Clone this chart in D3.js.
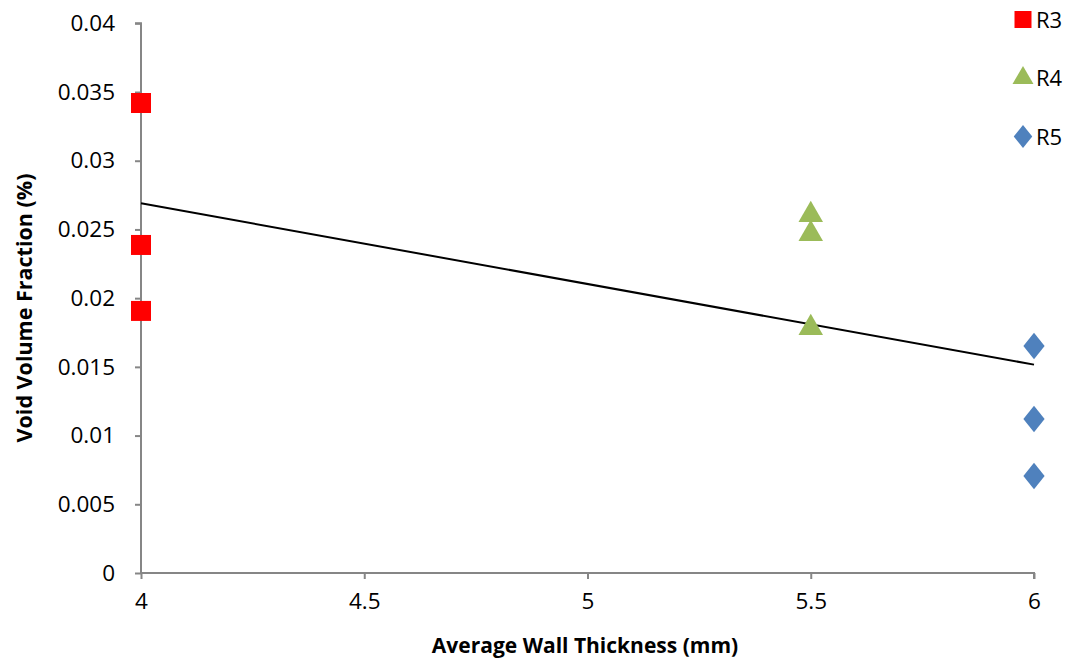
<!DOCTYPE html>
<html><head><meta charset="utf-8">
<script src="https://cdn.jsdelivr.net/npm/d3@7"></script>
<style>body{margin:0;background:#fff;} svg{display:block;}</style>
</head><body><svg id="c" width="1075" height="665"></svg>
<script>
const xTicks = [4, 4.5, 5, 5.5, 6];
const yTicks = [0, 0.005, 0.01, 0.015, 0.02, 0.025, 0.03, 0.035, 0.04];
const seriesNames = ["R3", "R4", "R5"];
const seriesColors = ["#FF0000", "#9BBB59", "#4F81BD"];
const r3 = [[4, 0.0342], [4, 0.02387], [4, 0.01907]];
const r4 = [[5.5, 0.02605], [5.5, 0.02467], [5.5, 0.01783]];
const r5 = [[6, 0.01652], [6, 0.01121], [6, 0.00706]];
const seriesData = [r3, r4, r5];

const svg = d3.select("#c");
const font = "'Open Sans', sans-serif";
const L = 141, R = 1034, T = 23.3, B = 573;
const x = d3.scaleLinear().domain([4, 6]).range([L, R]);
const y = d3.scaleLinear().domain([0, 0.04]).range([B, T]);

// axes
const xAxis = svg.append("g").attr("transform", `translate(0,${B})`)
  .call(d3.axisBottom(x).tickValues(xTicks).tickSize(6).tickPadding(14).tickFormat(d3.format("")));
const yAxis = svg.append("g").attr("transform", `translate(${L},0)`)
  .call(d3.axisLeft(y).tickValues(yTicks).tickSize(6).tickPadding(20).tickFormat(d => d === 0 ? "0" : d3.format("")(+d.toFixed(3))));
[xAxis, yAxis].forEach(a => {
  a.select(".domain").attr("stroke", "#868686").attr("stroke-width", 2);
  a.selectAll(".tick line").attr("stroke", "#868686").attr("stroke-width", 2);
  a.selectAll(".tick text").attr("fill", "#000").style("font-family", font).style("font-size", "22.5px");
});
xAxis.select(".domain").attr("d", `M${L},0H${R}V6`);
yAxis.select(".domain").attr("d", `M-6,${T}H0V${B}`);

// trendline (least squares of all points)
const all = seriesData.flat();
const mx = d3.mean(all, d => d[0]), my = d3.mean(all, d => d[1]);
const slope = d3.sum(all, d => (d[0]-mx)*(d[1]-my)) / d3.sum(all, d => (d[0]-mx)**2);
const icpt = my - slope*mx;
svg.append("line")
  .attr("x1", x(4)).attr("y1", y(icpt + slope*4))
  .attr("x2", x(6)).attr("y2", y(icpt + slope*6))
  .attr("stroke", "#000").attr("stroke-width", 2);

const symbols = [d3.symbolSquare, d3.symbolTriangle, d3.symbolDiamond];
const sizes = [400, 260, 250];
const legendSizes = [289, 190, 190];
seriesData.forEach((data, i) => {
  svg.append("g").selectAll("path").data(data).join("path")
    .attr("d", d3.symbol().type(symbols[i]).size(sizes[i]))
    .attr("transform", d => `translate(${x(d[0])},${y(d[1])})` + (i === 2 ? " scale(1.25,0.9)" : ""))
    .attr("fill", seriesColors[i]);
});

// legend
const ly = [19.5, 78, 136.5];
seriesNames.forEach((n, i) => {
  svg.append("path")
    .attr("d", d3.symbol().type(symbols[i]).size(legendSizes[i]))
    .attr("transform", `translate(1023,${ly[i]})` + (i === 2 ? " scale(1.25,0.9)" : ""))
    .attr("fill", seriesColors[i]);
  svg.append("text").attr("x", 1036).attr("y", ly[i] + 8)
    .style("font-family", font).style("font-size", "22px").text(n);
});

// titles
svg.append("text").attr("x", 585).attr("y", 653).attr("text-anchor", "middle")
  .style("font-family", font).style("font-size", "21px").style("font-weight", "bold")
  .text("Average Wall Thickness (mm)");
svg.append("text").attr("transform", "translate(32,308) rotate(-90)").attr("text-anchor", "middle")
  .style("font-family", font).style("font-size", "21.5px").style("font-weight", "bold")
  .text("Void Volume Fraction (%)");
</script></body></html>
